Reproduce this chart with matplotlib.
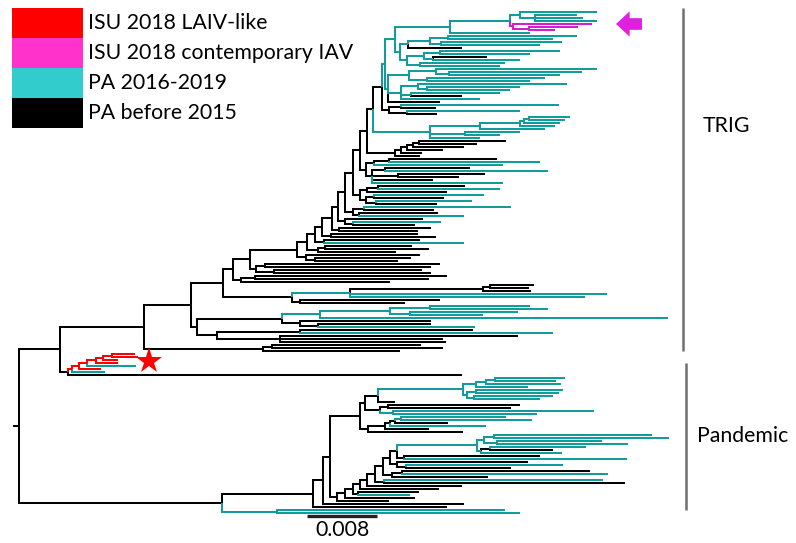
import matplotlib.pyplot as plt
from matplotlib.collections import LineCollection
from matplotlib.patches import Rectangle

# Branch lengths are in units of 1e-4 substitutions/site (scale bar = 0.008 = 80 units).
# Leaf labels give the group: t = PA 2016-2019, k = PA before 2015,
# m = ISU 2018 contemporary IAV, r = ISU 2018 LAIV-like.
# An internal node label forces the branch colour of that node.

# --- TRIG clade -------------------------------------------------------------
TRIG_TOP_A1 = "(((t:89,(t:48,t:54,t:71):18):11,(m:91,(m:56,m:29):19):3)t:69,t:92)t"
TRIG_TOP_A2 = ("((((t:148,t:120)t:20,(t:138,t:113)t:12)t:25,k:61)t:10,"
               "(((t:137,t:103)t:18,(k:62,t:99)t:10)t:20,(t:97,t:92)t:15)t:8)t")
TRIG_TOP_B = ("(((t:184,(t:152,t:127)t:15)t:30,(t:135,t:118)t:20)t:25,"
              "((t:170,(t:106,t:95)t:10)t:20,(t:102,k:58)t:12,t:91)t:15,k:60)t")

# side clades hanging off the TRIG backbone, from the top of the ladder down
TRIG_SIDE_CLADES = [
    "((t:180,k:40):14,(t:130,k:35):20)",
    "(((((t:47,t:41):6,t:41):5,t:40):45,t:74):57,(t:62,t:40):40,t:57)",
    "(((((k:99,k:66):7,k:58):7,k:41):7,k:24):7,k:29)",
    "(((k:123,t:172):17,t:147):10,((k:97,t:187):15,(k:100,k:70):30,k:70,t:150):7)",
    "(((k:100,t:140):12,k:91):8,((t:125,k:80):10,(t:110,k:70):12):6)",
    "((t:168,k:80):12,(k:91,t:120):6)",
    "(k:90,(t:100,k:70):10)",
    "(k:105,k:90)",
    "(k:100,k:120)",
    "(k:110,t:160)",
    "((k:100,k:120):8,k:90)",
    "(k:130,(k:110,k:95):10)",
    "((k:200,k:190):10,(k:170,k:180):20)",
    "((k:220,k:200):15,k:170)",
    "((((k:50,k:45):8,k:55):152,t:294,t:269)t:66,(k:160,k:120):9)",
]
TRIG_SIDE_LENGTHS = [8, 66, 31, 6, 8, 10, 8, 8, 10, 10, 12, 10, 7, 10, 79]
TRIG_BACKBONE_LENGTHS = [3, 11, 6, 8, 8, 10, 8, 6, 12, 8, 9, 11, 54, 20, 11]

TRIG_H = "((((t:114,t:135):46,(t:123,t:83):23):80,t:398)t:44,(k:150,(k:130,t:180):20):21)"
TRIG_K = "((k:198,t:289):95,(k:272,k:186,k:190):72)"
TRIG_E = "((k:170,k:195):10,k:156)"

# --- LAIV-like clade -------------------------------------------------------
LAIV_CLADE = "((((((r:26,r:30)r:10,r:17)r:8,r:25)r:10,t:55)r:10,r:25)r:8,t:38)r"

# --- Pandemic clade --------------------------------------------------------
PAN_TOP_1 = "((((t:80,t:70):10,t:85):12,t:60):15,((t:100,t:95):10,(t:90,t:75):8):5)"
PAN_TOP_2 = "((k:150,k:140):10,(t:230,t:165):15)"
PAN_TOP_3 = "((((t:120,t:150):6,k:60):6,t:110):6,k:50)"
PAN_LOW_TOP = "(((t:180,t:200):12,(t:120,t:150):15):8,((t:110,k:72):10,t:92)t:5)t"
PAN_SIDE_CLADES = ["(k:155,t:255)", "(k:150,(t:180,k:120):10)", "((k:215,t:235):12,k:110)",
                   "(t:250,k:275)", "k", "k", "(k:70,t:60)", "k", "k"]
PAN_SIDE_LENGTHS = [8, 8, 10, 10, 108, 90, 5, 80, 60]
PAN_BACKBONE_LENGTHS = [91, 8, 8, 9, 9, 8, 8, 10, 9]
PAN_BASAL = "(t:260,t:277)t"

LEGEND_LABELS = ["ISU 2018 LAIV-like", "ISU 2018 contemporary IAV", "PA 2016-2019", "PA before 2015"]
LEGEND_COLOURS = ["#ff0000", "#ff33cc", "#33cccc", "#000000"]
BRANCH_COLOURS = {"k": "#000000", "t": "#139c9c", "m": "#d020d0", "r": "#ff0000"}
SCALE_BAR = 0.008
UNIT = 1e-4


def ladder(top, sides, side_lengths, backbone_lengths):
    node = top
    for side, slen, blen in zip(sides, side_lengths, backbone_lengths):
        node = f"({node}:{blen},{side}:{slen})"
    return node


trig_top = f"(({TRIG_TOP_A1}:63,{TRIG_TOP_A2}:6)t:11,{TRIG_TOP_B}:3)t"
trig_f = ladder(trig_top, TRIG_SIDE_CLADES, TRIG_SIDE_LENGTHS, TRIG_BACKBONE_LENGTHS)
trig = f"(({trig_f}:37,({TRIG_H}:97,{TRIG_K}:23):7):53,{TRIG_E}:136)"
pan_upper = f"((({PAN_TOP_1}:97,k:20):15,{PAN_TOP_2}:17):5,({PAN_TOP_3}:19,k:108):9)"
pan_lower = ladder(PAN_LOW_TOP, PAN_SIDE_CLADES, PAN_SIDE_LENGTHS, PAN_BACKBONE_LENGTHS)
pandemic = f"(((({pan_upper}:35,{pan_lower}:8):8,k:162):11,k:153):104,{PAN_BASAL}:63)"
newick = f"(({trig}:96,({LAIV_CLADE}:4,k:450):9):47,{pandemic}:232):7"


def parse(s):
    pos = 0

    def node():
        nonlocal pos
        children = []
        if s[pos] == "(":
            pos += 1
            while True:
                children.append(node())
                ch = s[pos]
                pos += 1
                if ch == ")":
                    break
        label = ""
        while pos < len(s) and s[pos] not in ":,()":
            label += s[pos]
            pos += 1
        length = 0.0
        if pos < len(s) and s[pos] == ":":
            pos += 1
            start = pos
            while pos < len(s) and s[pos] not in ",()":
                pos += 1
            length = float(s[start:pos])
        return {"children": children, "label": label, "length": length}

    return node()


root = parse(newick)
leaves = []


def place(n, x0):
    n["x"] = x0 + n["length"]
    if not n["children"]:
        n["y"] = len(leaves)
        leaves.append(n)
        n["groups"] = {n["label"]}
    else:
        for c in n["children"]:
            place(c, n["x"])
        n["y"] = (n["children"][0]["y"] + n["children"][-1]["y"]) / 2
        n["groups"] = set().union(*(c["groups"] for c in n["children"]))
    if n["children"] and n["label"]:
        n["col"] = n["label"]
    elif len(n["groups"]) == 1:
        n["col"] = next(iter(n["groups"]))
    else:
        n["col"] = "k"


place(root, 0.0)

segs = {k: [] for k in BRANCH_COLOURS}
segs[root["col"]].append([(0, root["y"]), (root["x"], root["y"])])


def collect(n):
    for c in n["children"]:
        segs[c["col"]].append([(n["x"], n["y"]), (n["x"], c["y"]), (c["x"], c["y"])])
        collect(c)


collect(root)

fig = plt.figure(figsize=(7.96, 5.43), dpi=100)
ax = fig.add_axes([0, 0, 1, 1])
ax.axis("off")
n_leaves = len(leaves)
step = (513 - 12) / (n_leaves - 1)
ax.set_xlim(-14.9, 894.9)
ax.set_ylim((543 - 12) / step, -12 / step)

for key in ["k", "t", "m", "r"]:
    ax.add_collection(LineCollection(segs[key], colors=BRANCH_COLOURS[key], linewidths=1.45,
                                     capstyle="butt", joinstyle="miter"))

font = "Lato"

# star next to the LAIV-like clade
red = [l for l in leaves if l["label"] == "r"]
ax.plot(max(l["x"] for l in red) + 12, sum(l["y"] for l in red) / len(red), marker="*",
        color="#ff0000", markersize=20, markeredgewidth=0)

# arrow pointing at the contemporary IAV
mag = [l for l in leaves if l["label"] == "m"]
mx = max(l["x"] for l in mag)
my = mag[0]["y"]
ax.annotate("", xy=(mx + 24, my), xytext=(mx + 60, my),
            arrowprops=dict(arrowstyle="simple,head_length=0.7,head_width=1.3,tail_width=0.6",
                            color="#e020e0", lw=0, mutation_scale=14))

# clade bars
trig_last = 114
ax.plot([766, 766], [-1.3, trig_last - 1], color="#6e6e6e", lw=1.8, solid_capstyle="butt")
ax.plot([769, 769], [trig_last + 3, n_leaves - 2], color="#6e6e6e", lw=1.8, solid_capstyle="butt")
ax.text(0.883, 1 - 126 / 543, "TRIG", transform=ax.transAxes, fontsize=15.3,
        family=font, va="center", ha="left")
ax.text(0.876, 1 - 436 / 543, "Pandemic", transform=ax.transAxes, fontsize=15.3,
        family=font, va="center", ha="left")

# scale bar
bar_len = SCALE_BAR / UNIT
ax.plot([336, 336 + bar_len], [n_leaves, n_leaves], color="#222222", lw=2.4, solid_capstyle="butt")
ax.text(336 + bar_len / 2, n_leaves + 1.2, "0.008", fontsize=15.3, family=font,
        ha="center", va="top")

# legend
for i, (lab, col) in enumerate(zip(LEGEND_LABELS, LEGEND_COLOURS)):
    top = 1 - (8 + 30 * i) / 543
    ax.add_patch(Rectangle((12 / 796, top - 30 / 543), 71 / 796, 30 / 543,
                           transform=ax.transAxes, facecolor=col, edgecolor="none"))
    ax.text(88 / 796, top - 15 / 543, lab, transform=ax.transAxes, fontsize=15.3,
            family=font, va="center", ha="left")

fig.savefig("out.png", dpi=100)
